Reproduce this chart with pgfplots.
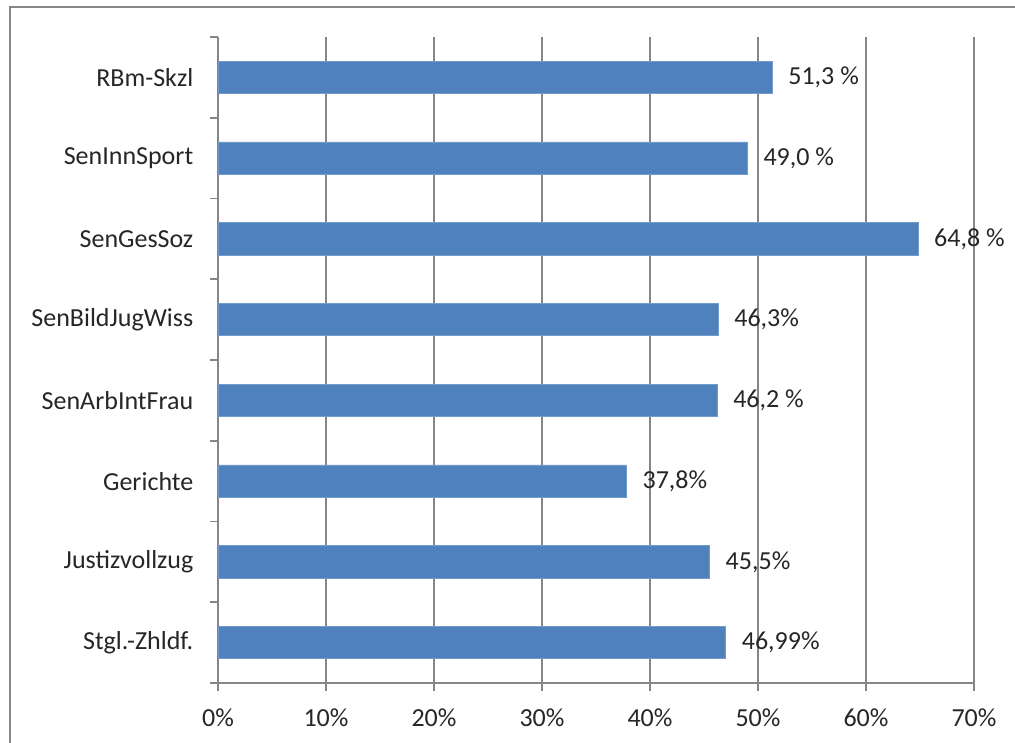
\documentclass[border=0pt]{standalone}
\usepackage{pgfplots}
\pgfplotsset{compat=1.18}
\usepackage{fontspec}
\setmainfont{Carlito}
\definecolor{barblue}{HTML}{4F81BD}
\definecolor{linegray}{HTML}{868686}
\definecolor{txt}{HTML}{262626}
\begin{document}
\begin{tikzpicture}
\useasboundingbox (-163.5pt,-45pt) rectangle (597.75pt,512.25pt);
\draw[linegray, line width=1.3pt] (-156pt,-45pt) -- (-156pt,507pt) -- (597.75pt,507pt);
\begin{axis}[
  at={(0pt,0pt)}, anchor=south west, scale only axis,
  width=567pt, height=484.5pt,
  xbar, bar width=0.4,
  xmin=0, xmax=70, ymin=-0.5, ymax=7.5,
  axis lines=left, axis line style={-, linegray, line width=1.3pt},
  xtick={0,10,...,70},
  xticklabels={0\%,10\%,20\%,30\%,40\%,50\%,60\%,70\%},
  ytick={-0.5,0.5,...,7.5}, y tick label as interval,
  yticklabels={Stgl.-Zhldf.,Justizvollzug,Gerichte,SenArbIntFrau,SenBildJugWiss,SenGesSoz,SenInnSport,RBm-Skzl},
  tick align=outside, major tick length=6pt,
  tick style={linegray, line width=1.3pt},
  xmajorgrids, grid style={linegray, line width=1.3pt},
  ticklabel style={font=\fontsize{19.5}{23}\selectfont, text=txt},
  xticklabel style={yshift=-10pt},
  yticklabel style={xshift=-9pt},
  nodes near coords, point meta=explicit symbolic, nodes near coords align=horizontal,
  every node near coord/.append style={font=\fontsize{19.5}{23}\selectfont, text=txt, anchor=west, inner sep=0pt, xshift=12pt},
]
\addplot[fill=barblue, draw=barblue!80!white, line width=0.5pt] coordinates {
  (46.99,0) [46,99\%]
  (45.5,1) [45,5\%]
  (37.8,2) [37,8\%]
  (46.2,3) [46,2 \%]
  (46.3,4) [46,3\%]
  (64.8,5) [64,8 \%]
  (49.0,6) [49,0 \%]
  (51.3,7) [51,3 \%]
};
\end{axis}
\end{tikzpicture}
\end{document}
